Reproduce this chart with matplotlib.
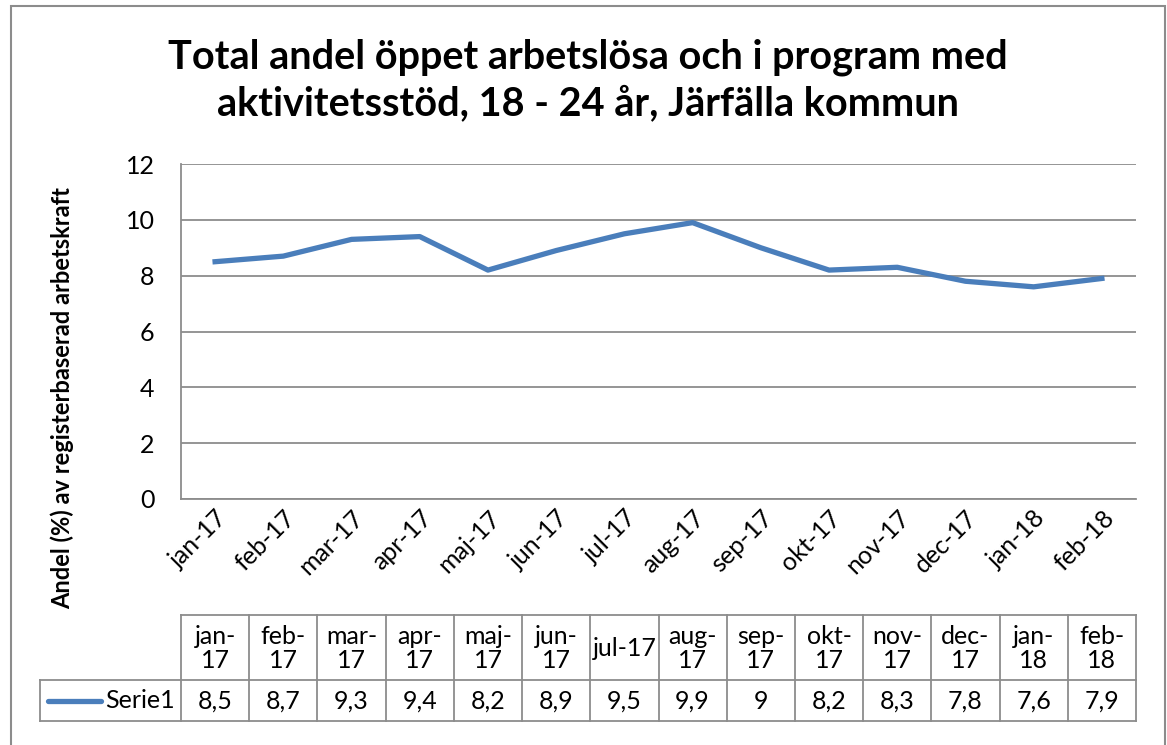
import matplotlib.pyplot as plt
from matplotlib.lines import Line2D
from matplotlib.patches import Rectangle

plt.rcParams['font.family'] = ['Lato', 'DejaVu Sans']

# Data
months = ["jan-17", "feb-17", "mar-17", "apr-17", "maj-17", "jun-17", "jul-17",
          "aug-17", "sep-17", "okt-17", "nov-17", "dec-17", "jan-18", "feb-18"]
table_heads = ["jan-\n17", "feb-\n17", "mar-\n17", "apr-\n17", "maj-\n17", "jun-\n17", "jul-17",
               "aug-\n17", "sep-\n17", "okt-\n17", "nov-\n17", "dec-\n17", "jan-\n18", "feb-\n18"]
values = [8.5, 8.7, 9.3, 9.4, 8.2, 8.9, 9.5, 9.9, 9.0, 8.2, 8.3, 7.8, 7.6, 7.9]
series_name = "Serie1"

W, H = 1167, 745
line_color = "#4a7ebb"
grid_color = "#8c8c8c"
fs = 18

fig = plt.figure(figsize=(W / 100, H / 100), dpi=100)

# outer chart border
fig.add_artist(Rectangle((11 / W, -0.01), (1165 - 11) / W, 1 - 6 / H + 0.01,
                         transform=fig.transFigure, fill=False,
                         edgecolor="#8c8c8c", linewidth=1.5))

left, right, top, bottom = 181, 1136, 164, 499
ax = fig.add_axes([left / W, 1 - bottom / H, (right - left) / W, (bottom - top) / H])

x = list(range(len(months)))
ax.plot(x, values, color=line_color, linewidth=3.8, solid_joinstyle="round")
ax.set_xlim(-0.5, len(months) - 0.5)
ax.set_ylim(0, 12)
ax.set_yticks(range(0, 13, 2))
ax.yaxis.grid(True, color=grid_color, linewidth=1.3)
ax.set_axisbelow(True)
for s in ["top", "right"]:
    ax.spines[s].set_visible(False)
for s in ["left", "bottom"]:
    ax.spines[s].set_color(grid_color)
    ax.spines[s].set_linewidth(1.3)
ax.tick_params(axis="y", length=0, pad=19, labelsize=fs)
ax.tick_params(axis="x", length=0, pad=5, labelsize=fs)
ax.set_xticks(x)
ax.set_xticklabels(months, rotation=45, ha="right", rotation_mode="anchor")

fig.text(62 / W, 1 - 398 / H, "Andel (%) av registerbaserad arbetskraft", rotation=90,
         fontsize=17, fontweight="bold", ha="center", va="center")

fig.suptitle("Total andel öppet arbetslösa och i program med\naktivitetsstöd, 18 - 24 år, Järfälla kommun",
             x=588 / W, y=1 - 80 / H, va="center", fontsize=28.5, fontweight="bold",
             linespacing=1.3)

# data table
col_w = (right - left) / len(months)
y_top, y_mid, y_bot = 615, 680, 721
tab_left = 40
border = "#8c8c8c"

def fx(px):
    return px / W

def fy(py):
    return 1 - py / H

def hline(x0, x1, y):
    fig.add_artist(Line2D([fx(x0), fx(x1)], [fy(y), fy(y)], color=border, linewidth=1.3))

def vline(xp, y0, y1):
    fig.add_artist(Line2D([fx(xp), fx(xp)], [fy(y0), fy(y1)], color=border, linewidth=1.3))

hline(left, right, y_top)
hline(tab_left, right, y_mid)
hline(tab_left, right, y_bot)
vline(tab_left, y_mid, y_bot)
for i in range(len(months) + 1):
    vline(left + i * col_w, y_top, y_bot)

for i, (h, v) in enumerate(zip(table_heads, values)):
    cx = left + (i + 0.5) * col_w
    fig.text(fx(cx), fy((y_top + y_mid) / 2 + 1), h, ha="center", va="center",
             fontsize=fs, linespacing=1.1)
    label = f"{v:g}".replace(".", ",")
    fig.text(fx(cx), fy((y_mid + y_bot) / 2 + 1), label, ha="center", va="center", fontsize=fs)

fig.add_artist(Line2D([fx(48), fx(101)], [fy(701), fy(701)], color=line_color,
                      linewidth=3.8, solid_capstyle="round"))
fig.text(fx(105), fy(701), series_name, ha="left", va="center", fontsize=fs)

fig.savefig("out.png", dpi=100)
